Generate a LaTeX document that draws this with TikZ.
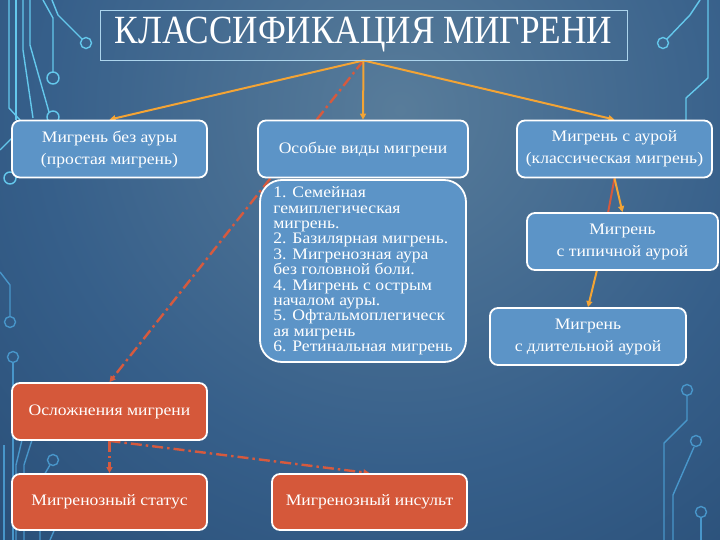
\documentclass[tikz,border=0pt]{standalone}
\usepackage{fontspec}
\setmainfont{Liberation Serif}
\newfontfamily\boxfont[FakeStretch=1.1]{Liberation Serif}
\newfontfamily\headfont[FakeStretch=0.88]{Liberation Serif}
\usetikzlibrary{arrows.meta}
\pgfdeclarelayer{bg}
\pgfdeclarelayer{conn}
\pgfsetlayers{bg,conn,main}
\definecolor{bgin}{RGB}{88,124,154}
\definecolor{bgmid}{RGB}{54,95,138}
\definecolor{bgout}{RGB}{24,56,94}
\definecolor{boxblue}{RGB}{92,148,199}
\definecolor{boxred}{RGB}{213,88,58}
\definecolor{lineor}{RGB}{244,164,52}
\definecolor{linered}{RGB}{214,90,62}
\definecolor{tracea}{RGB}{100,200,236}
\definecolor{traceb}{RGB}{72,150,202}
\definecolor{titleline}{RGB}{172,212,236}
\pgfdeclareradialshading{bgshade}{\pgfpoint{0bp}{0bp}}{color(0bp)=(bgin); color(10bp)=(bgmid); color(26bp)=(bgout); color(50bp)=(bgout)}
\tikzset{
  box/.style={draw=white, line width=1.8pt, rounded corners=8pt, fill=boxblue, text=white,
    font=\boxfont\fontsize{16}{22}\selectfont, align=center, inner sep=0pt,
    minimum width=195pt, minimum height=57pt},
  redbox/.style={box, fill=boxred},
  oarrow/.style={draw=lineor, line width=2pt, -{Triangle[length=6pt,width=6pt]}},
  rdash/.style={draw=linered, line width=2.4pt, dash pattern=on 11pt off 4pt on 2.5pt off 4pt,
    -{Triangle[length=6pt,width=6pt]}},
  trace/.style={draw=tracea, line width=1.4pt},
  traceB/.style={draw=traceb, line width=1.4pt},
}
\begin{document}
\begin{tikzpicture}[x=1pt,y=-1pt]
\useasboundingbox (0,0) rectangle (720,540);
\begin{pgfonlayer}{bg}
  \begin{scope}
    \clip (0,0) rectangle (720,540);
    \shade[shading=bgshade] (400,110) circle (900);
    % left circuit traces (top)
    \draw[trace] (9,0) -- (9,108) -- (20,120);
    \draw[trace] (16,0) -- (16,120);
    \draw[trace] (23,0) -- (23,50) -- (33,118);
    \draw[trace] (30,0) -- (30,45) -- (49,112);
    \draw[trace] (53,117) circle (6);
    \draw[trace] (43,0) -- (53,18) -- (53,72);
    \draw[trace] (53,78) circle (6);
    \draw[trace] (52,0) -- (58,15) -- (82,39);
    \draw[trace] (86,43) circle (5.5);
    \draw[trace] (0,150) -- (12,138);
    \draw[trace] (10,178) circle (6);
    % left middle / bottom
    \draw[traceB] (0,272) -- (10,285) -- (10,316);
    \draw[traceB] (10,322) circle (5.5);
    \draw[traceB] (13,357) circle (5.5);
    \draw[traceB] (13,362) -- (13,540);
    \draw[traceB] (4,445) -- (4,540);
    \draw[traceB] (22,440) -- (16,465) -- (16,540);
    \draw[traceB] (32,440) -- (24,465) -- (24,540);
    \draw[traceB] (53,460) circle (5.5);
    \draw[traceB] (50,465) -- (40,482) -- (40,540);
    \draw[traceB] (57,524) -- (50,540);
    % right traces
    \draw[trace] (700,0) -- (690,15) -- (667,39);
    \draw[trace] (663,43) circle (5.5);
    \draw[trace] (708,0) -- (708,78) -- (686,98) -- (686,120);
    \draw[traceB] (687,390) circle (5.5);
    \draw[traceB] (687,396) -- (687,420) -- (664,443) -- (664,540);
    \draw[traceB] (696,441) circle (5.5);
    \draw[traceB] (694,447) -- (673,495) -- (673,540);
    \draw[traceB] (701,512) circle (5.5);
    \draw[traceB] (701,518) -- (701,540);
  \end{scope}
\end{pgfonlayer}

% title
\node[draw=titleline, line width=0.9pt, minimum width=527pt, minimum height=50pt, inner sep=0pt,
  text=white, font=\headfont\fontsize{40}{44}\selectfont] (T) at (363.5,35) {КЛАССИФИКАЦИЯ МИГРЕНИ};

% blue boxes
\node[box] (A) at (109.5,149) {Мигрень без ауры\\(простая мигрень)};
\node[box, minimum width=210pt] (B) at (363,149) {Особые виды мигрени};
\node[box] (C) at (614.5,149) {Мигрень с аурой\\(классическая мигрень)};
\node[box, minimum width=206pt, minimum height=182pt, rounded corners=22pt, align=left,
  font=\boxfont\fontsize{16}{15.4}\selectfont] (D) at (363,271)
  {1. Семейная\\гемиплегическая\\мигрень.\\2. Базилярная мигрень.\\3. Мигренозная аура\\без головной боли.\\4. Мигрень с острым\\началом ауры.\\5. Офтальмоплегическ\\ая мигрень\\6. Ретинальная мигрень};
\node[box, minimum width=191pt] (E) at (622.5,241.5) {Мигрень\\с типичной аурой};
\node[box, minimum width=196pt] (F) at (588,336.5) {Мигрень\\с длительной аурой};

% red boxes
\node[redbox] (G) at (109.5,411.5) {Осложнения мигрени};
\node[redbox, minimum height=56pt] (H) at (109.5,502) {Мигренозный статус};
\node[redbox, minimum height=56pt] (I) at (369.5,502) {Мигренозный инсульт};

\coordinate (e1) at (608,213);
\coordinate (e2) at (597,270);
\begin{pgfonlayer}{conn}
  \draw[rdash] (T.south) -- (G.north);
  \draw[oarrow] (T.south) -- (A.north);
  \draw[oarrow] (T.south) -- (B.north);
  \draw[oarrow] (T.south) -- (C.north);
  \draw[draw=linered, line width=2pt] (C.south) -- (e1);
  \draw[oarrow] (C.south) -- (E.north);
  \draw[oarrow] (e2) -- (F.north);
  \draw[rdash] (G.south) -- (H.north);
  \draw[rdash] (G.south) -- (I.north);
\end{pgfonlayer}
\end{tikzpicture}
\end{document}
